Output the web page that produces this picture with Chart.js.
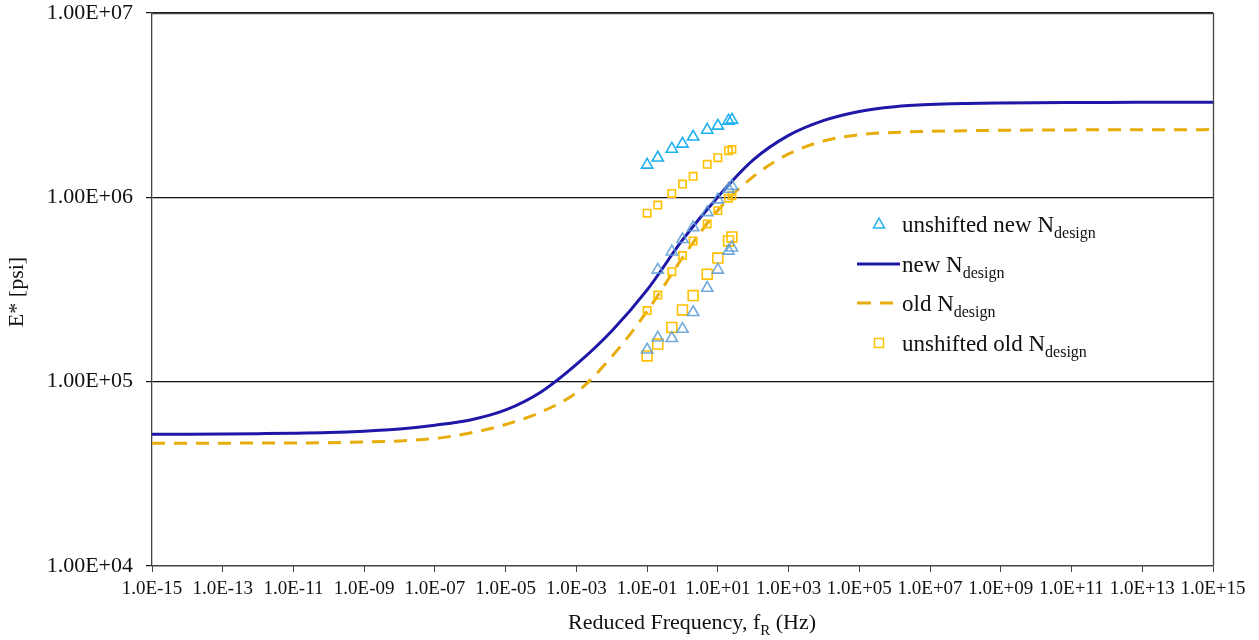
<!DOCTYPE html>
<html>
<head>
<meta charset="utf-8">
<script src="https://cdn.jsdelivr.net/npm/chart.js@4.4.1/dist/chart.umd.min.js"></script>
<style>
  html, body { margin: 0; padding: 0; background: #fff; }
  #wrap { width: 1259px; height: 640px; position: relative; }
</style>
</head>
<body>
<div id="wrap"><canvas id="masterCurve"></canvas></div>
<script>
// measured frequencies of the unshifted test data (Hz)
const freqHz = [0.1, 0.2, 0.5, 1, 2, 5, 10, 20, 25];

// unshifted E* values (psi), one array per test temperature
const newColdE = [1.50e6, 1.64e6, 1.83e6, 1.95e6, 2.13e6, 2.32e6, 2.44e6, 2.60e6, 2.63e6];
const newMidE  = [null, 4.04e5, 5.07e5, 5.92e5, 6.87e5, 8.29e5, 9.72e5, 1.11e6, 1.15e6];
const newWarmE = [1.49e5, 1.73e5, 1.72e5, 1.93e5, 2.38e5, 3.22e5, 4.04e5, 5.12e5, 5.33e5];
const oldColdE = [8.20e5, 9.08e5, 1.05e6, 1.18e6, 1.30e6, 1.51e6, 1.64e6, 1.79e6, 1.82e6];
const oldMidE  = [2.43e5, 2.95e5, 3.95e5, 4.83e5, 5.80e5, 7.17e5, 8.47e5, 9.89e5, 1.02e6];
const oldWarmE = [1.38e5, 1.60e5, 1.97e5, 2.45e5, 2.93e5, 3.83e5, 4.68e5, 5.80e5, 6.10e5];

// master curves, one value per decade of reduced frequency (Hz)
const curveFreq = [1e-15, 1e-14, 1e-13, 1e-12, 1e-11, 1e-10, 1e-9, 1e-8, 1e-7, 1e-6, 1e-5, 1e-4, 1e-3,
                   1e-2, 1e-1, 1, 1e1, 1e2, 1e3, 1e4, 1e5, 1e6, 1e7, 1e8, 1e9, 1e10, 1e11, 1e12,
                   1e13, 1e14, 1e15];
const newCurveE = [51830, 51900, 52030, 52230, 52490, 52950, 53880, 55380, 58070, 61970, 70220, 87920,
                   124000, 188400, 314500, 587400, 1005000, 1596000, 2168000, 2614000, 2925000, 3102000,
                   3188000, 3228000, 3248000, 3260000, 3268000, 3272000, 3276000, 3278000, 3280000];
const oldCurveE = [46330, 46330, 46390, 46450, 46510, 46680, 47090, 47680, 49190, 52690, 58580, 68480,
                   87270, 136700, 240900, 470200, 851100, 1295000, 1720000, 2023000, 2189000, 2250000,
                   2279000, 2299000, 2310000, 2316000, 2322000, 2325000, 2328000, 2329000, 2330000];

// axis ticks
const xTickVals = [1e-15, 1e-13, 1e-11, 1e-9, 1e-7, 1e-5, 1e-3, 1e-1, 1e1, 1e3, 1e5, 1e7, 1e9, 1e11, 1e13, 1e15];
const xTickLabels = ['1.0E-15', '1.0E-13', '1.0E-11', '1.0E-09', '1.0E-07', '1.0E-05', '1.0E-03', '1.0E-01',
                     '1.0E+01', '1.0E+03', '1.0E+05', '1.0E+07', '1.0E+09', '1.0E+11', '1.0E+13', '1.0E+15'];
const yTickVals = [1e4, 1e5, 1e6, 1e7];
const yTickLabels = ['1.00E+04', '1.00E+05', '1.00E+06', '1.00E+07'];

const FONT = '"Liberation Serif", "Times New Roman", serif';
const CYAN = '#1fb1ee';
const STEEL = 'rgba(91, 155, 213, 0.85)';
const GOLD = '#ffc000';
const NAVY = '#1f17a8';
const DASH_GOLD = '#e8ad0a';

function pts(xs, ys) {
    return xs.map((x, i) => ({ x: x, y: ys[i] })).filter(p => p.y != null);
}

function markerSet(label, data, style, color, radius) {
    return {
        label: label,
        data: data,
        showLine: false,
        pointStyle: style,
        pointRadius: radius,
        pointHoverRadius: radius,
        pointBorderColor: color,
        pointBackgroundColor: 'rgba(0,0,0,0)',
        pointBorderWidth: 1.6
    };
}

// legend entries, drawn by the plugin below (text after "_" is subscript)
const legendEntries = [
    { label: 'unshifted new N_design', kind: 'triangle', color: CYAN },
    { label: 'new N_design', kind: 'line', color: NAVY },
    { label: 'old N_design', kind: 'dash', color: DASH_GOLD },
    { label: 'unshifted old N_design', kind: 'rect', color: GOLD }
];

function drawSubText(ctx, text, x, y, size, subSize, align) {
    const parts = text.split('_');
    const main = parts[0];
    const sub = parts[1] || '';
    const rest = parts[2] || '';
    ctx.font = size + 'px ' + FONT;
    const w1 = ctx.measureText(main).width;
    const w3 = ctx.measureText(rest).width;
    ctx.font = subSize + 'px ' + FONT;
    const w2 = ctx.measureText(sub).width;
    let start = x;
    if (align === 'center') start = x - (w1 + w2 + w3) / 2;
    ctx.textAlign = 'left';
    ctx.textBaseline = 'alphabetic';
    ctx.font = size + 'px ' + FONT;
    ctx.fillText(main, start, y);
    ctx.font = subSize + 'px ' + FONT;
    ctx.fillText(sub, start + w1, y + 6);
    ctx.font = size + 'px ' + FONT;
    ctx.fillText(rest, start + w1 + w2, y);
}

const decorations = {
    id: 'decorations',
    afterDraw(chart) {
        const ctx = chart.ctx;
        const a = chart.chartArea;
        ctx.save();

        // plot box (top and right edges)
        ctx.strokeStyle = '#444';
        ctx.lineWidth = 1.3;
        ctx.beginPath();
        ctx.moveTo(a.left, a.top + 0.5);
        ctx.lineTo(a.right + 0.5, a.top + 0.5);
        ctx.lineTo(a.right + 0.5, a.bottom);
        ctx.stroke();

        ctx.fillStyle = '#111';

        // y title
        ctx.save();
        ctx.translate(23, 292);
        ctx.rotate(-Math.PI / 2);
        ctx.font = '22px ' + FONT;
        ctx.textAlign = 'center';
        ctx.textBaseline = 'alphabetic';
        ctx.fillText('E* [psi]', 0, 0);
        ctx.restore();

        // x title
        drawSubText(ctx, 'Reduced Frequency, f_R_ (Hz)', 692, 629, 22, 15, 'center');

        // legend
        const lx = 879, textX = 902;
        const rowY = [224, 264, 303, 343];
        legendEntries.forEach((e, i) => {
            const y = rowY[i];
            ctx.strokeStyle = e.color;
            if (e.kind === 'triangle') {
                ctx.lineWidth = 1.5;
                ctx.beginPath();
                ctx.moveTo(lx, y - 6);
                ctx.lineTo(lx + 5.5, y + 4);
                ctx.lineTo(lx - 5.5, y + 4);
                ctx.closePath();
                ctx.stroke();
            } else if (e.kind === 'rect') {
                ctx.lineWidth = 1.5;
                ctx.strokeRect(lx - 4.5, y - 4.5, 9, 9);
            } else if (e.kind === 'line') {
                ctx.lineWidth = 3;
                ctx.beginPath();
                ctx.moveTo(857, y);
                ctx.lineTo(900, y);
                ctx.stroke();
            } else {
                ctx.lineWidth = 3;
                ctx.setLineDash([14, 9]);
                ctx.beginPath();
                ctx.moveTo(857, y);
                ctx.lineTo(893, y);
                ctx.stroke();
                ctx.setLineDash([]);
            }
            ctx.fillStyle = '#111';
            drawSubText(ctx, e.label, textX, y + 8, 23, 16, 'left');
        });

        ctx.restore();
    }
};

new Chart(document.getElementById('masterCurve'), {
    type: 'scatter',
    data: {
        datasets: [
            markerSet('unshifted new N design', pts(freqHz, newColdE), 'triangle', CYAN, 6.5),
            markerSet('unshifted new (mid)', pts(freqHz, newMidE), 'triangle', STEEL, 6.5),
            markerSet('unshifted new (warm)', pts(freqHz, newWarmE), 'triangle', STEEL, 6.5),
            markerSet('unshifted old N design', pts(freqHz, oldColdE), 'rect', GOLD, 5.2),
            markerSet('unshifted old (mid)', pts(freqHz, oldMidE), 'rect', GOLD, 5.2),
            markerSet('unshifted old (warm)', pts(freqHz, oldWarmE), 'rect', GOLD, 7),
            {
                label: 'new N design',
                data: pts(curveFreq, newCurveE),
                showLine: true,
                borderColor: NAVY,
                borderWidth: 3,
                pointRadius: 0,
                cubicInterpolationMode: 'monotone'
            },
            {
                label: 'old N design',
                data: pts(curveFreq, oldCurveE),
                showLine: true,
                borderColor: DASH_GOLD,
                borderWidth: 3,
                borderDash: [13, 9],
                pointRadius: 0,
                cubicInterpolationMode: 'monotone'
            }
        ]
    },
    options: {
        responsive: true,
        maintainAspectRatio: false,
        animation: false,
        layout: { padding: { top: 13, right: 46, left: 0, bottom: 0 } },
        plugins: {
            legend: { display: false },
            tooltip: { enabled: false }
        },
        scales: {
            x: {
                type: 'logarithmic',
                min: 1e-15,
                max: 1e15,
                afterBuildTicks: (scale) => { scale.ticks = xTickVals.map(v => ({ value: v })); },
                afterFit: (scale) => {
                    scale.height = 74;
                    scale.paddingLeft = 0;
                    scale.paddingRight = 0;
                },
                ticks: {
                    autoSkip: false,
                    maxRotation: 0,
                    minRotation: 0,
                    padding: 6,
                    color: '#111',
                    font: { family: FONT, size: 19 },
                    callback: (v, i) => xTickLabels[i]
                },
                grid: { drawOnChartArea: false, tickLength: 6, color: '#444' },
                border: { color: '#444', width: 1.3 }
            },
            y: {
                type: 'logarithmic',
                min: 1e4,
                max: 1e7,
                afterBuildTicks: (scale) => { scale.ticks = yTickVals.map(v => ({ value: v })); },
                afterFit: (scale) => {
                    scale.width = 152;
                    scale.paddingTop = 0;
                    scale.paddingBottom = 0;
                },
                ticks: {
                    padding: 13,
                    color: '#111',
                    font: { family: FONT, size: 22 },
                    callback: (v, i) => yTickLabels[i]
                },
                grid: { color: '#111', lineWidth: 1.2, tickLength: 6 },
                border: { color: '#444', width: 1.3 }
            }
        }
    },
    plugins: [decorations]
});
</script>
</body>
</html>
